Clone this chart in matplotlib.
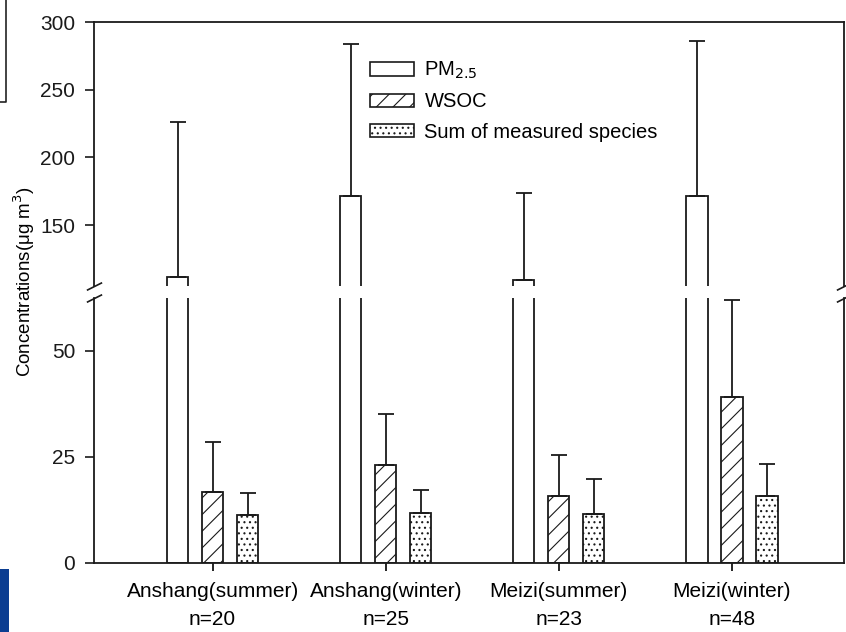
import matplotlib
matplotlib.use('Agg')
import matplotlib.pyplot as plt
import numpy as np
from matplotlib.patches import Rectangle, Patch
from matplotlib.lines import Line2D

plt.rcParams['font.family'] = ['Liberation Sans', 'DejaVu Sans']
plt.rcParams['hatch.linewidth'] = 0.8

sites = ['Anshang(summer)', 'Anshang(winter)', 'Meizi(summer)', 'Meizi(winter)']
n_samples = [20, 25, 23, 48]
pm25 = [111.6, 171.4, 109.4, 171.4]
pm25_err = [114.4, 112.3, 64.2, 114.6]
wsoc = [16.7, 23.0, 15.7, 39.2]
wsoc_err = [11.9, 12.0, 9.7, 22.8]
species = [11.3, 11.7, 11.5, 15.7]
species_err = [5.1, 5.4, 8.2, 7.5]

W, H = 846, 632
fig = plt.figure(figsize=(W / 100, H / 100), dpi=100)

left, right = 94 / W, 844 / W
ax_top = fig.add_axes([left, 1 - 286 / H, right - left, (286 - 22) / H])
ax_bot = fig.add_axes([left, 1 - 563 / H, right - left, (563 - 298) / H])

x = np.arange(1, len(sites) + 1)
bw = 0.122
off = 0.202
EC = '#1a1a1a'

series = [
    (pm25, pm25_err, -off, '', 'PM$_{2.5}$'),
    (wsoc, wsoc_err, 0, '//', 'WSOC'),
    (species, species_err, off, '...', 'Sum of measured species'),
]

for ax in (ax_top, ax_bot):
    for vals, errs, dx, hatch, lab in series:
        ax.bar(x + dx, vals, width=bw, facecolor='white', edgecolor=EC,
               linewidth=1.3, hatch=hatch)
        ax.errorbar(x + dx, vals, yerr=[np.zeros(len(vals)), errs], fmt='none',
                    ecolor=EC, elinewidth=1.3, capsize=6, capthick=1.3)
    ax.set_xlim(0.315, 4.647)
    for s in ax.spines.values():
        s.set_linewidth(1.3)
        s.set_color(EC)
    ax.tick_params(axis='y', direction='out', length=6.5, width=1.2,
                   labelsize=15, colors=EC, pad=7)

ax_top.set_ylim(105, 300)
ax_top.set_yticks([150, 200, 250, 300])
ax_top.spines['bottom'].set_visible(False)
ax_top.tick_params(axis='x', bottom=False, labelbottom=False)

ax_bot.set_ylim(0, 62.4)
ax_bot.set_yticks([0, 25, 50])
ax_bot.spines['top'].set_visible(False)
ax_bot.set_xticks(x)
ax_bot.set_xticklabels([f'{s}\nn={n}' for s, n in zip(sites, n_samples)],
                       linespacing=1.55)
ax_bot.tick_params(axis='x', direction='out', length=6, width=1.2,
                   labelsize=15, pad=8)

# break marks
kw = dict(marker=[(-1, -0.5), (1, 0.5)], markersize=11, linestyle='none',
          color=EC, mec=EC, mew=1.2, clip_on=False)
ax_top.plot([0, 1], [0, 0], transform=ax_top.transAxes, **kw)
ax_bot.plot([0, 1], [1, 1], transform=ax_bot.transAxes, **kw)

fig.text(24 / W, 1 - 282 / H, 'Concentrations(μg m$^{3}$)', rotation=90,
         ha='center', va='center', fontsize=13.5)

handles = [Patch(facecolor='white', edgecolor=EC, hatch=h, linewidth=1.2)
           for _, _, _, h, _ in series]
labels = [s[4] for s in series]
ax_top.legend(handles, labels, loc='upper left',
              bbox_to_anchor=((360 - 94) / (844 - 94), 1 - (50 - 22) / (286 - 22)),
              frameon=False, fontsize=14.5, handlelength=2.2, handleheight=0.65,
              labelspacing=0.55, handletextpad=0.5, borderpad=0)

# artifacts at the page edges
fig.add_artist(Line2D([6 / W, 6 / W, 0], [1, 1 - 102 / H, 1 - 102 / H],
                      transform=fig.transFigure, color='#222222', lw=1.2))
fig.add_artist(Rectangle((0, 0), 9 / W, (632 - 569) / H, transform=fig.transFigure,
                         facecolor='#0b3d91', edgecolor='none'))

fig.savefig('out.png', dpi=100)
